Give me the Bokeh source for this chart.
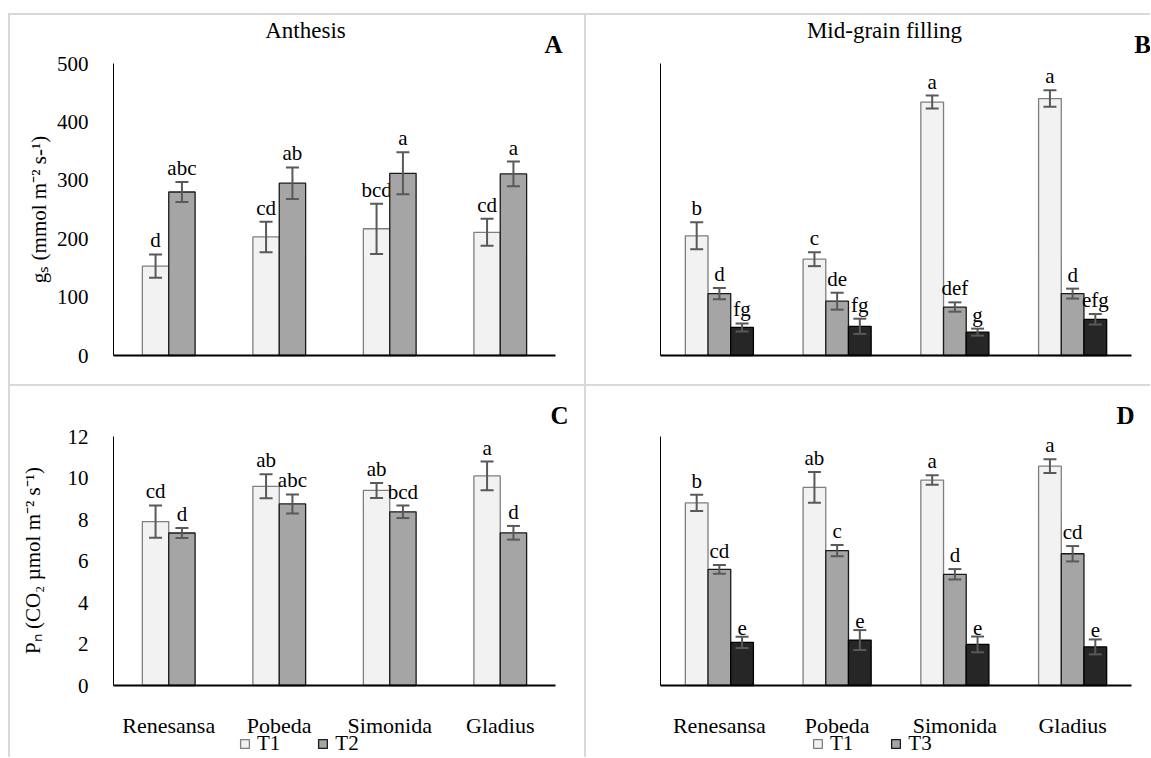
import math
from bokeh.plotting import figure
from bokeh.models import (Range1d, ColumnDataSource, Whisker, TeeHead, Label,
                          Legend, LegendItem, FixedTicker, Spacer)
from bokeh.layouts import row, column
from bokeh.core.properties import value
from bokeh.embed import file_html
from bokeh.resources import INLINE

# ---------------- data ----------------
cultivars = ["Renesansa", "Pobeda", "Simonida", "Gladius"]

# A: gs at anthesis
gs_anth_T1 = [153, 203, 217, 211]
gs_anth_T1_err = [20, 26, 43, 23]
gs_anth_T1_let = ["d", "cd", "bcd", "cd"]
gs_anth_T2 = [280, 295, 312, 311]
gs_anth_T2_err = [17, 27, 36, 21]
gs_anth_T2_let = ["abc", "ab", "a", "a"]

# B: gs at mid-grain filling
gs_mid_T1 = [205, 165, 434, 440]
gs_mid_T1_err = [23, 12, 11, 14]
gs_mid_T1_let = ["b", "c", "a", "a"]
gs_mid_T3 = [106, 93, 83, 106]
gs_mid_T3_err = [9.5, 14.5, 8, 8.5]
gs_mid_T3_let = ["d", "de", "def", "d"]
gs_mid_S3 = [48, 50, 40, 62]
gs_mid_S3_err = [7, 13, 6, 9]
gs_mid_S3_let = ["fg", "fg", "g", "efg"]

# C: Pn at anthesis
pn_anth_T1 = [7.9, 9.6, 9.4, 10.1]
pn_anth_T1_err = [0.78, 0.58, 0.36, 0.69]
pn_anth_T1_let = ["cd", "ab", "ab", "a"]
pn_anth_T2 = [7.35, 8.75, 8.37, 7.36]
pn_anth_T2_err = [0.24, 0.46, 0.3, 0.33]
pn_anth_T2_let = ["d", "abc", "bcd", "d"]

# D: Pn at mid-grain filling
pn_mid_T1 = [8.8, 9.55, 9.9, 10.57]
pn_mid_T1_err = [0.39, 0.74, 0.23, 0.33]
pn_mid_T1_let = ["b", "ab", "a", "a"]
pn_mid_T3 = [5.6, 6.5, 5.36, 6.35]
pn_mid_T3_err = [0.21, 0.27, 0.25, 0.37]
pn_mid_T3_let = ["cd", "c", "d", "cd"]
pn_mid_S3 = [2.08, 2.19, 1.98, 1.86]
pn_mid_S3_err = [0.27, 0.48, 0.38, 0.36]
pn_mid_S3_let = ["e", "e", "e", "e"]

# ---------------- style ----------------
FONT = "Liberation Serif"
BORDER = "#d9d9d9"
FILL = {"light": "#f2f2f2", "mid": "#a5a5a5", "dark": "#262626"}
EDGE = {"light": "#7f7f7f", "mid": "#1a1a1a", "dark": "#000000"}
ERR = "#595959"
GAP = 2.19


class Panel:
    """A figure whose frame fills its canvas; the axes sit at fixed data locations."""

    def __init__(self, W, H, cat0, cat4, y0px, ytop_px, ymax, tick_step, series,
                 show_yticks, show_xlabels):
        self.ux = (cat4 - cat0) / len(cultivars)
        self.uy = (y0px - ytop_px) / ymax
        self.cat0, self.y0px = cat0, y0px
        xr = Range1d(-cat0 / self.ux, (W - cat0) / self.ux)
        yr = Range1d(-(H - y0px) / self.uy, y0px / self.uy)
        p = figure(width=W, height=H, x_range=xr, y_range=yr,
                   output_backend="svg", toolbar_location=None,
                   min_border=0, min_border_left=0, min_border_right=0,
                   min_border_top=0, min_border_bottom=0)
        p.background_fill_color = "white"
        p.border_fill_color = "white"
        p.outline_line_color = None
        p.xgrid.visible = False
        p.ygrid.visible = False
        self.p = p

        n = len(series)
        w = 1.0 / (n + GAP)
        centers = [i + 0.5 for i in range(len(cultivars))]
        self.renderers = {}
        for i, (name, vals, errs, lets, style) in enumerate(series):
            off = (i - (n - 1) / 2.0) * w
            src = ColumnDataSource(dict(
                x=[c + off for c in centers], val=vals,
                upper=[v + e for v, e in zip(vals, errs)],
                lower=[v - e for v, e in zip(vals, errs)],
                lab=lets))
            r = p.vbar(x="x", top="val", width=w, bottom=0, source=src,
                       fill_color=FILL[style], line_color=EDGE[style], line_width=1.3)
            self.renderers[name] = r
            wh = Whisker(base="x", upper="upper", lower="lower", source=src,
                         line_color=ERR, line_width=2,
                         upper_head=TeeHead(size=13, line_color=ERR, line_width=2),
                         lower_head=TeeHead(size=13, line_color=ERR, line_width=2))
            wh.level = "overlay"
            p.add_layout(wh)
            p.text(x="x", y="upper", text="lab", source=src,
                   text_align="center", text_baseline="bottom", y_offset=-2,
                   text_font=value(FONT), text_font_size="21px", text_color="black")

        xa = p.xaxis[0]
        xa.fixed_location = 0
        xa.bounds = (0, len(cultivars))
        xa.ticker = FixedTicker(ticks=centers)
        xa.major_label_overrides = {c: name for c, name in zip(centers, cultivars)}
        xa.axis_line_color = "black"
        xa.axis_line_width = 2
        xa.major_tick_line_color = None
        xa.minor_tick_line_color = None
        xa.major_label_text_font = FONT
        xa.major_label_text_font_size = "22px"
        xa.major_label_text_color = "black" if show_xlabels else None
        xa.major_label_standoff = 21

        ya = p.yaxis[0]
        ya.fixed_location = 0
        ya.bounds = (0, ymax)
        ya.axis_line_color = "black"
        ya.axis_line_width = 1
        ya.major_tick_line_color = None
        ya.minor_tick_line_color = None
        if show_yticks:
            ya.ticker = FixedTicker(ticks=list(range(0, ymax + 1, tick_step)))
            ya.major_label_text_font = FONT
            ya.major_label_text_font_size = "21px"
            ya.major_label_text_color = "black"
            ya.major_label_standoff = 19
        else:
            ya.ticker = FixedTicker(ticks=[])

    def data_xy(self, cx, cy):
        return (cx - self.cat0) / self.ux, (self.y0px - cy) / self.uy

    def label(self, cx, cy, text, size, bold=False, angle=0.0):
        x, y = self.data_xy(cx, cy)
        self.p.add_layout(Label(x=x, y=y, text=text, angle=angle,
                                text_font=FONT, text_font_size=f"{size}px",
                                text_font_style="bold" if bold else "normal",
                                text_align="center", text_baseline="middle",
                                text_color="black"))

    def legend(self, names, sx, sy):
        leg = Legend(items=[LegendItem(label=nm, renderers=[self.renderers[nm]]) for nm in names],
                     orientation="horizontal", location=(sx, sy),
                     glyph_width=11, glyph_height=11, label_standoff=7, spacing=37,
                     padding=0, margin=0, border_line_color=None, background_fill_alpha=0,
                     label_text_font=FONT, label_text_font_size="21px",
                     label_text_color="black")
        self.p.add_layout(leg)


# ---------------- panels ----------------
A = Panel(574, 369, 103, 545, 340, 48, 500, 100,
          [("T1", gs_anth_T1, gs_anth_T1_err, gs_anth_T1_let, "light"),
           ("T2", gs_anth_T2, gs_anth_T2_err, gs_anth_T2_let, "mid")],
          True, False)
A.label(295, 15, "Anthesis", 23)
A.label(543, 29, "A", 25, bold=True)
A.label(28, 194, "gₛ (mmol m⁻² s-¹)", 21, angle=math.pi / 2)

B = Panel(564, 369, 74, 545, 340, 48, 500, 100,
          [("T1", gs_mid_T1, gs_mid_T1_err, gs_mid_T1_let, "light"),
           ("T3", gs_mid_T3, gs_mid_T3_err, gs_mid_T3_let, "mid"),
           ("S3", gs_mid_S3, gs_mid_S3_err, gs_mid_S3_let, "dark")],
          False, False)
B.label(298, 15, "Mid-grain filling", 23)
B.label(556, 29, "B", 25, bold=True)

C = Panel(574, 371, 103, 545, 299, 50, 12, 2,
          [("T1", pn_anth_T1, pn_anth_T1_err, pn_anth_T1_let, "light"),
           ("T2", pn_anth_T2, pn_anth_T2_err, pn_anth_T2_let, "mid")],
          True, True)
C.label(549, 29, "C", 25, bold=True)
C.label(22, 174, "Pₙ (CO₂ µmol m⁻² s⁻¹)", 21, angle=math.pi / 2)
C.legend(["T1", "T2"], 229, 1)

D = Panel(564, 371, 74, 545, 299, 50, 12, 2,
          [("T1", pn_mid_T1, pn_mid_T1_err, pn_mid_T1_let, "light"),
           ("T3", pn_mid_T3, pn_mid_T3_err, pn_mid_T3_let, "mid"),
           ("S3", pn_mid_S3, pn_mid_S3_err, pn_mid_S3_let, "dark")],
          False, True)
D.label(539, 29, "D", 25, bold=True)
D.legend(["T1", "T3"], 226, 1)


def gray(w, h):
    return Spacer(width=w, height=h, styles={"background-color": BORDER})


def white(w, h):
    return Spacer(width=w, height=h)


layout = column(
    white(1150, 13),
    row(white(8, 2), gray(1142, 2)),
    row(white(8, 369), gray(2, 369), A.p, gray(2, 369), B.p),
    row(white(8, 2), gray(1142, 2)),
    row(white(8, 371), gray(2, 371), C.p, gray(2, 371), D.p),
)

open("out.html", "w").write(file_html(layout, INLINE))
